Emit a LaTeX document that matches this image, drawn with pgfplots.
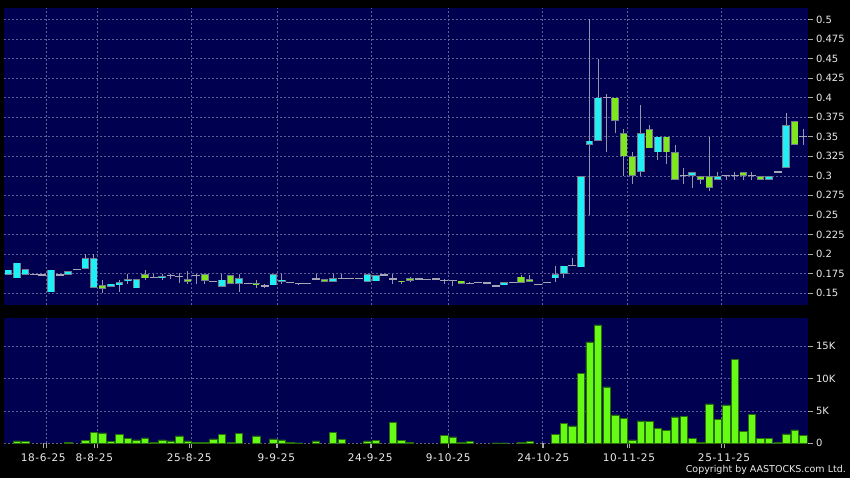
\documentclass[border=0pt]{standalone}
\usepackage{fontspec}
\setmainfont{DejaVu Sans}
\newfontfamily\datefont[LetterSpace=6]{DejaVu Sans}
\usepackage{pgfplots}
\pgfplotsset{compat=1.18}
\usepackage{pgfplotstable}

\definecolor{navy}{RGB}{0,0,80}
\definecolor{gridcol}{RGB}{95,95,150}
\definecolor{cyanbody}{RGB}{30,240,245}
\definecolor{greenbody}{RGB}{128,230,30}
\definecolor{bodygray}{RGB}{115,125,140}
\definecolor{wick}{RGB}{150,150,170}
\definecolor{doji}{RGB}{165,165,180}
\definecolor{volgreen}{RGB}{102,250,20}
\definecolor{voldark}{RGB}{40,110,10}
\definecolor{labelcol}{RGB}{235,235,235}
\definecolor{tickgray}{RGB}{170,170,170}

\pgfplotsset{
  panel/.style={
    scale only axis, width=803.5pt,
    xmin=-0.5, xmax=93.5,
    axis background/.style={fill=navy},
    axis line style={draw=none},
    yticklabel pos=right, ytick pos=right,
    tick align=outside,
    major tick length=5pt,
    ytick style={draw=tickgray, line width=0.6pt},
    /pgf/number format/assume math mode=true,
    yticklabel style={font=\fontsize{10}{12}\selectfont, text=labelcol, anchor=west},
    grid style={dash pattern=on 2pt off 2pt, draw=gridcol, line width=0.5pt},
    ymajorgrids=true,
  },
  nomark/.style={only marks, mark=none, mark size=0pt,
    mark options={draw=none, fill=none}},
  wickplot/.style={nomark, color=wick,
    error bars/.cd, y dir=both, y explicit, error mark=none,
    error bar style={line width=1pt, draw=wick}},
  bodyplot/.style 2 args={nomark, color=#2,
    error bars/.cd, y dir=plus, y explicit, error mark=none,
    error bar style={line width=#1, draw=#2}},
}

% up candles (close > open), drawn cyan
\pgfplotstableread{
i o h l c
0 0.173 0.180 0.173 0.180
1 0.169 0.189 0.169 0.189
2 0.173 0.181 0.173 0.181
5 0.151 0.180 0.151 0.180
7 0.173 0.178 0.173 0.178
9 0.181 0.200 0.181 0.195
10 0.157 0.200 0.157 0.195
12 0.158 0.162 0.158 0.162
13 0.160 0.167 0.152 0.164
14 0.165 0.174 0.162 0.168
15 0.156 0.168 0.156 0.168
18 0.169 0.174 0.167 0.172
25 0.158 0.174 0.158 0.167
27 0.162 0.174 0.151 0.169
31 0.160 0.174 0.160 0.174
32 0.164 0.175 0.162 0.167
38 0.164 0.174 0.164 0.169
42 0.164 0.174 0.164 0.174
43 0.165 0.173 0.165 0.173
58 0.160 0.164 0.160 0.164
64 0.169 0.185 0.164 0.174
65 0.175 0.185 0.169 0.185
67 0.183 0.300 0.183 0.300
68 0.340 0.500 0.250 0.345
69 0.345 0.450 0.345 0.400
74 0.305 0.390 0.300 0.355
76 0.330 0.350 0.320 0.350
80 0.300 0.305 0.285 0.305
83 0.295 0.305 0.295 0.300
89 0.295 0.300 0.295 0.300
91 0.310 0.380 0.310 0.365
}\upc

% down candles (close < open), drawn green
\pgfplotstableread{
i o h l c
11 0.160 0.167 0.150 0.155
16 0.174 0.180 0.167 0.169
21 0.168 0.178 0.162 0.164
23 0.174 0.174 0.162 0.166
26 0.173 0.173 0.162 0.162
29 0.163 0.167 0.157 0.161
37 0.168 0.168 0.164 0.164
46 0.166 0.166 0.162 0.164
47 0.169 0.171 0.165 0.166
53 0.166 0.166 0.162 0.162
60 0.171 0.173 0.163 0.163
61 0.168 0.173 0.164 0.164
71 0.400 0.400 0.355 0.370
72 0.355 0.360 0.300 0.325
73 0.325 0.330 0.290 0.300
75 0.360 0.365 0.335 0.335
77 0.350 0.350 0.315 0.330
78 0.330 0.340 0.295 0.295
81 0.300 0.300 0.290 0.295
82 0.300 0.350 0.280 0.285
86 0.305 0.305 0.295 0.300
88 0.300 0.300 0.295 0.295
92 0.370 0.370 0.340 0.340
}\downc

% unchanged candles (open = close)
\pgfplotstableread{
i o h l c
3 0.174 0.174 0.174 0.174
4 0.173 0.173 0.173 0.173
6 0.173 0.173 0.173 0.173
8 0.180 0.180 0.180 0.180
17 0.170 0.174 0.170 0.170
19 0.172 0.174 0.168 0.172
20 0.171 0.176 0.163 0.171
22 0.172 0.175 0.162 0.172
24 0.165 0.165 0.165 0.165
28 0.162 0.162 0.162 0.162
30 0.159 0.162 0.157 0.159
33 0.164 0.164 0.164 0.164
34 0.162 0.162 0.160 0.162
35 0.162 0.162 0.162 0.162
36 0.168 0.174 0.168 0.168
39 0.169 0.174 0.169 0.169
40 0.169 0.169 0.169 0.169
41 0.169 0.169 0.169 0.169
44 0.173 0.173 0.173 0.173
45 0.168 0.174 0.162 0.168
48 0.168 0.168 0.168 0.168
49 0.167 0.167 0.167 0.167
50 0.168 0.168 0.168 0.168
51 0.166 0.168 0.162 0.166
52 0.166 0.166 0.159 0.166
54 0.162 0.164 0.162 0.162
55 0.164 0.164 0.164 0.164
56 0.163 0.163 0.163 0.163
57 0.159 0.159 0.159 0.159
59 0.164 0.164 0.164 0.164
62 0.161 0.161 0.161 0.161
63 0.164 0.164 0.164 0.164
66 0.185 0.195 0.185 0.185
70 0.400 0.405 0.330 0.400
79 0.300 0.310 0.290 0.300
84 0.300 0.300 0.295 0.300
85 0.300 0.305 0.295 0.300
87 0.300 0.305 0.295 0.300
90 0.305 0.305 0.305 0.305
93 0.350 0.360 0.340 0.350
}\flatc

\pgfplotstableread{
i v
1 360
2 310
7 150
9 460
10 1700
11 1600
12 260
13 1340
14 770
15 515
16 820
17 150
18 515
19 360
20 1130
21 360
22 200
23 200
24 670
25 1390
26 150
27 1545
29 1130
31 670
32 515
33 200
34 50
36 360
38 1650
39 570
42 360
43 460
45 3245
46 410
47 150
51 1240
52 980
53 100
54 260
57 50
58 50
60 200
61 260
64 1340
65 3090
66 2680
67 10800
68 15650
69 18280
70 8700
71 4380
72 3860
73 515
74 3450
75 3350
76 2320
77 1960
78 4070
79 4120
80 770
81 200
82 6080
83 3700
84 5920
85 12980
86 1800
87 4480
88 720
89 770
90 100
91 1440
92 2060
93 1240
}\volumes

\begin{document}
\begin{tikzpicture}
\useasboundingbox (0pt,0pt) rectangle (850pt,478pt);
\fill[black] (0pt,0pt) rectangle (850pt,478pt);

% ---------- price panel ----------
\begin{axis}[panel,
  at={(4pt,172.5pt)}, anchor=south west, height=297.5pt,
  ymin=0.1341, ymax=0.5147,
  xtick={4.45,10.45,21.45,31.45,42.45,51.45,62.5,72.45,83.45},
  xticklabels={}, xtick style={draw=none}, xmajorgrids=true,
  ytick={0.15,0.175,0.2,0.225,0.25,0.275,0.3,0.325,0.35,0.375,0.4,0.425,0.45,0.475,0.5},
  yticklabel={\pgfmathprintnumber[fixed,precision=3]{\tick}},
]
% wicks
\addplot[wickplot] table[x=i, y=c, y error plus expr={\thisrow{h}-\thisrow{c}},
        y error minus expr={\thisrow{c}-\thisrow{l}}] {\upc};
\addplot[wickplot] table[x=i, y=c, y error plus expr={\thisrow{h}-\thisrow{c}},
        y error minus expr={\thisrow{c}-\thisrow{l}}] {\downc};
\addplot[wickplot] table[x=i, y=c, y error plus expr={\thisrow{h}-\thisrow{c}},
        y error minus expr={\thisrow{c}-\thisrow{l}}] {\flatc};
% unchanged
\addplot[only marks, mark=-, mark size=4pt, color=doji,
  mark options={line width=1.2pt, draw=doji}]
  table[x=i, y=c] {\flatc};
% up bodies
\addplot[bodyplot={7.4pt}{bodygray}]
  table[x=i, y=o, y error plus expr={\thisrow{c}-\thisrow{o}}] {\upc};
\addplot[bodyplot={5.8pt}{cyanbody}]
  table[x=i, y expr={\thisrow{o}+0.0009},
        y error plus expr={max(\thisrow{c}-\thisrow{o}-0.0018,0.0003)}] {\upc};
% down bodies
\addplot[bodyplot={7.4pt}{bodygray}]
  table[x=i, y=c, y error plus expr={\thisrow{o}-\thisrow{c}}] {\downc};
\addplot[bodyplot={5.8pt}{greenbody}]
  table[x=i, y expr={\thisrow{c}+0.0009},
        y error plus expr={max(\thisrow{o}-\thisrow{c}-0.0018,0.0003)}] {\downc};
\end{axis}

% ---------- volume panel ----------
\begin{axis}[panel,
  at={(4pt,34.7pt)}, anchor=south west, height=125pt,
  ymin=0, ymax=19300, scaled y ticks=false,
  ytick={0,5000,10000,15000}, yticklabels={0,5K,10K,15K},
  xtick={4.09,10.06,21.17,31.35,42.35,51.47,62.59,72.61,83.73},
  xticklabels={18-6-25,8-8-25,25-8-25,9-9-25,24-9-25,9-10-25,24-10-25,10-11-25,25-11-25},
  xtick pos=bottom, xtick style={draw=tickgray, line width=0.6pt},
  xticklabel style={font=\datefont\fontsize{10.5}{12}\selectfont, text=labelcol, yshift=-1.5pt},
  xmajorgrids=false,
  extra x ticks={4.45,10.45,21.45,31.45,42.45,51.45,62.5,72.45,83.45},
  extra x tick labels={},
  extra x tick style={grid=major, tick style={draw=none}},
]
\addplot[ybar, bar width=7.4pt, bar shift=0pt, fill=volgreen, draw=voldark, line width=0.6pt]
  table[x=i, y=v] {\volumes};
\end{axis}

\node[anchor=south east, font=\fontsize{9.5}{11}\selectfont, text=labelcol, inner sep=0pt]
  at (846pt,3pt) {Copyright by AASTOCKS.com Ltd.};
\end{tikzpicture}
\end{document}
